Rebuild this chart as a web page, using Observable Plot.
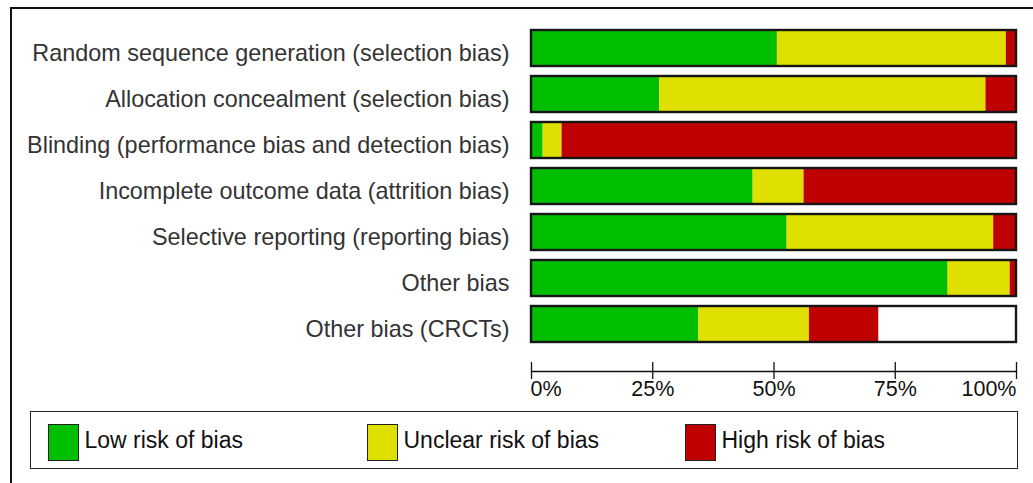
<!DOCTYPE html>
<html>
<head>
<meta charset="utf-8">
<script src="https://cdn.jsdelivr.net/npm/d3@7"></script>
<script src="https://cdn.jsdelivr.net/npm/@observablehq/plot@0.6"></script>
<style>
  body { margin: 0; background: #fff; }
  #wrap { position: relative; width: 1033px; height: 483px; overflow: hidden; font-family: "Liberation Sans", Arial, sans-serif; }
  #frame { position: absolute; left: 10px; top: 7px; width: 1100px; height: 600px; border-left: 2px solid #111; border-top: 2px solid #111; }
  #chart { position: absolute; left: 0; top: 0; }
  #legend { position: absolute; left: 30px; top: 411px; width: 986px; height: 56px; border: 1.5px solid #222; box-sizing: content-box; }
  .sw { position: absolute; width: 29px; height: 35px; border: 1.5px solid #222; }
  .lt { position: absolute; font-size: 23px; color: #111; line-height: 1; }
</style>
</head>
<body>
<div id="wrap">
  <div id="frame"></div>
  <div id="chart"></div>
  <div id="legend"></div>
</div>
<script>
const domains = [
  "Random sequence generation (selection bias)",
  "Allocation concealment (selection bias)",
  "Blinding (performance bias and detection bias)",
  "Incomplete outcome data (attrition bias)",
  "Selective reporting (reporting bias)",
  "Other bias",
  "Other bias (CRCTs)"
];
const categories = ["Low risk of bias", "Unclear risk of bias", "High risk of bias"];
const colors = ["#00BF00", "#DFE000", "#BF0000"];
const lowRisk     = [50.7, 26.4,  2.4, 45.7, 52.7, 85.9, 34.5];
const unclearRisk = [47.2, 67.3,  3.9, 10.5, 42.6, 12.8, 22.8];
const highRisk    = [ 2.1,  6.3, 93.7, 43.8,  4.7,  1.3, 14.3];
const tickValues = [0, 25, 50, 75, 100];
const tickLabels = ["0%", "25%", "50%", "75%", "100%"];

const series = [lowRisk, unclearRisk, highRisk];
const rows = [];
domains.forEach((d, i) => {
  categories.forEach((c, j) => rows.push({domain: d, category: c, value: series[j][i]}));
});
const ticks = tickValues.map((v, i) => ({v, label: tickLabels[i]}));

const plot = Plot.plot({
  width: 1033,
  height: 400,
  marginLeft: 531,
  marginRight: 17,
  marginTop: 22,
  marginBottom: 50,
  style: {fontFamily: "'Liberation Sans', Arial, sans-serif", background: "transparent"},
  x: {domain: [0, 100]},
  y: {domain: domains, paddingInner: 0.21, paddingOuter: 0.105, label: null},
  color: {domain: categories, range: colors},
  marks: [
    Plot.barX(domains, {x1: 0, x2: 100, y: d => d, fill: "white"}),
    Plot.barX(rows, Plot.stackX({x: "value", y: "domain", fill: "category", order: categories})),
    Plot.barX(domains, {x1: 0, x2: 100, y: d => d, fill: "none", stroke: "#161616", strokeWidth: 2.4}),
    Plot.axisY({tickSize: 0, tickPadding: 22, fontSize: 23.4, dy: 5, fill: "#333", stroke: "none", label: null}),
    Plot.frame({anchor: "bottom", dy: 21, stroke: "#111", strokeWidth: 1.3}),
    Plot.axisX({ticks: tickValues, tickSize: 17, dy: 12, tickFormat: () => "", stroke: "#111", strokeWidth: 1.3, label: null}),
    Plot.text(ticks.filter((t, i) => i === 0), {x: "v", text: "label", frameAnchor: "bottom", textAnchor: "start", lineAnchor: "top", dy: 30, dx: -1, fontSize: 21.5, fill: "#111"}),
    Plot.text(ticks.filter((t, i) => i > 0 && i < ticks.length - 1), {x: "v", text: "label", frameAnchor: "bottom", textAnchor: "middle", lineAnchor: "top", dy: 30, fontSize: 21.5, fill: "#111"}),
    Plot.text(ticks.filter((t, i) => i === ticks.length - 1), {x: "v", text: "label", frameAnchor: "bottom", textAnchor: "end", lineAnchor: "top", dy: 30, fontSize: 21.5, fill: "#111"})
  ]
});
document.getElementById("chart").appendChild(plot);

const swatchLeft = [48, 367, 685];
const legend = d3.select("#legend");
categories.forEach((c, i) => {
  legend.append("div").attr("class", "sw")
    .style("left", (swatchLeft[i] - 31.5) + "px").style("top", "11.5px")
    .style("background", colors[i]);
  legend.append("div").attr("class", "lt")
    .style("left", (swatchLeft[i] - 31.5 + 37) + "px").style("top", "17px")
    .text(c);
});
</script>
</body>
</html>
